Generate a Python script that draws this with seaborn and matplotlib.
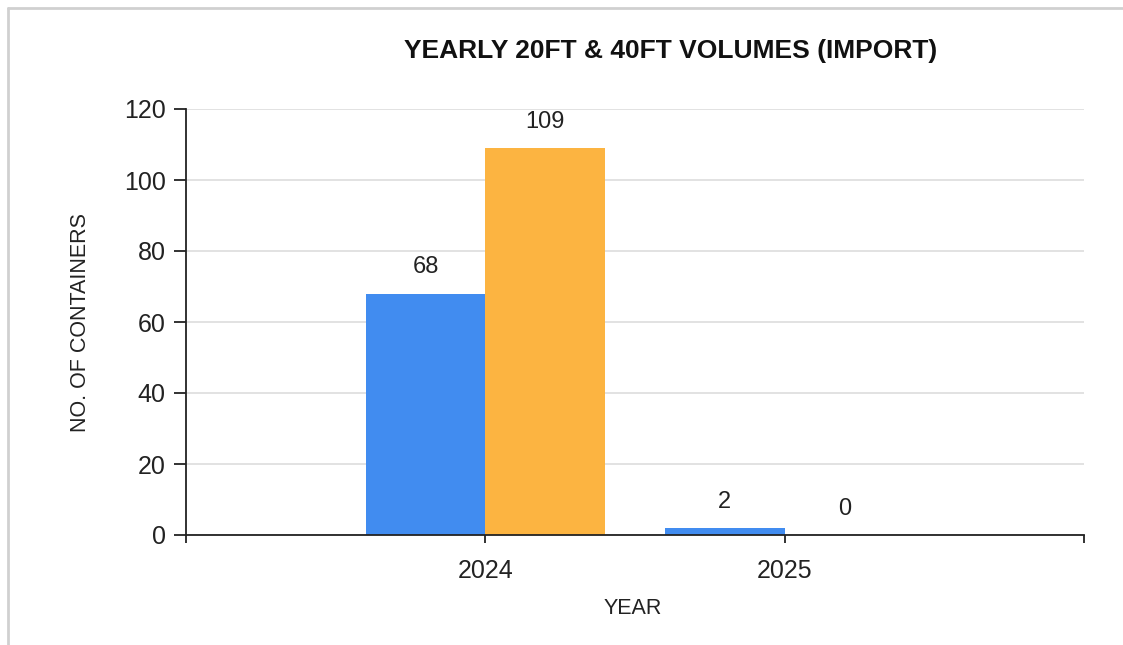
import pandas as pd
import matplotlib.pyplot as plt
import seaborn as sns
from matplotlib.lines import Line2D

# data
years = ["2024", "2025"]
vol_20ft = [68, 2]
vol_40ft = [109, 0]
y_ticks = [0, 20, 40, 60, 80, 100, 120]

df = pd.DataFrame({
    "Year": years * 2,
    "Size": ["20FT"] * len(years) + ["40FT"] * len(years),
    "Count": vol_20ft + vol_40ft,
})

sns.set_style("white")
plt.rcParams["font.family"] = ["Liberation Sans", "DejaVu Sans"]

fig = plt.figure(figsize=(11.23, 6.45), dpi=100)
ax = fig.add_axes([186 / 1123, 1 - 535 / 645, 898 / 1123, 426 / 645])

sns.barplot(data=df, x="Year", y="Count", hue="Size",
            palette=["#418CF0", "#FCB441"], width=0.8,
            saturation=1, linewidth=0, legend=False, ax=ax)

for c in ax.containers:
    ax.bar_label(c, padding=11, fontsize=17, color="#222222")

ax.set_xlim(-1, 2)
ax.set_ylim(0, 120)
ax.set_xticks([-1, 0, 1, 2])
ax.set_xticklabels(["", "2024", "2025", ""])
ax.set_yticks(y_ticks)
ax.tick_params(axis="y", left=True, length=9, width=1.3, labelsize=18, pad=5.5,
               colors="#222222")
ax.tick_params(axis="x", bottom=True, length=6, width=1.3, labelsize=18, pad=11,
               colors="#222222", direction="out")
ax.yaxis.grid(True, color="#DDDDDD", linewidth=1.2)
ax.set_axisbelow(True)

for side in ["top", "right"]:
    ax.spines[side].set_visible(False)
for side in ["left", "bottom"]:
    ax.spines[side].set_color("#222222")
    ax.spines[side].set_linewidth(1.3)

ax.set_xlabel("")
ax.set_ylabel("")
fig.text(633 / 1123, 1 - 609 / 645, "YEAR", ha="center", va="center",
         fontsize=15.5, color="#222222")
fig.text(81 / 1123, 1 - 323 / 645, "NO. OF CONTAINERS", ha="center", va="center",
         rotation=90, fontsize=15.5, color="#222222")
fig.text(671 / 1123, 1 - 51 / 645, "YEARLY 20FT & 40FT VOLUMES (IMPORT)",
         ha="center", va="center", fontsize=19, fontweight="bold", color="#111111")

# light frame on left and top like the dashboard panel
fig.add_artist(Line2D([8 / 1123, 8 / 1123], [0, 1 - 8 / 645],
                      transform=fig.transFigure, color="#D0D0D0", linewidth=2))
fig.add_artist(Line2D([8 / 1123, 1], [1 - 8 / 645, 1 - 8 / 645],
                      transform=fig.transFigure, color="#D0D0D0", linewidth=2))

fig.savefig("out.png", dpi=100)
